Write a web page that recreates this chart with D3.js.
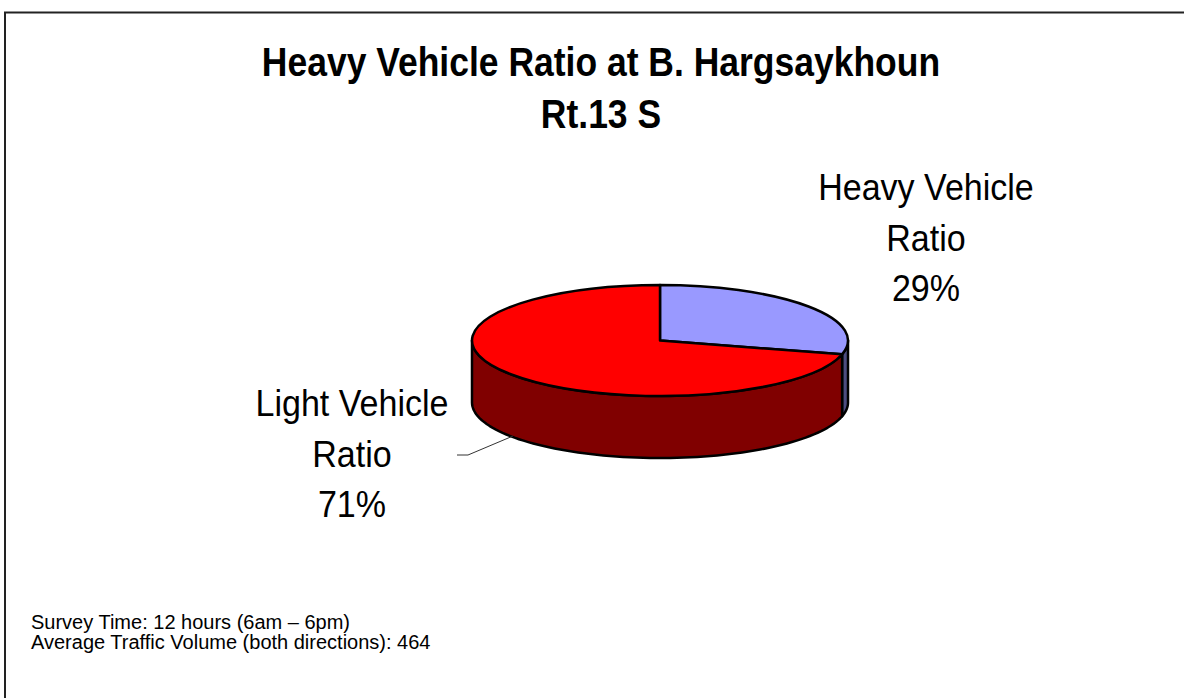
<!DOCTYPE html>
<html>
<head>
<meta charset="utf-8">
<script src="https://cdn.jsdelivr.net/npm/d3@7"></script>
<style>
    body { margin: 0; background: #fff; }
    svg text { font-family: "Liberation Sans", Arial, sans-serif; fill: #000; }
</style>
</head>
<body>
<div id="chart"></div>
<script>
// chart data
const categories = ['Heavy Vehicle Ratio', 'Light Vehicle Ratio']
const values = [29, 71]
const labelNames = [['Heavy Vehicle', 'Ratio'], ['Light Vehicle', 'Ratio']]
const titleLines = ['Heavy Vehicle Ratio at B. Hargsaykhoun', 'Rt.13 S']
const notes = ['Survey Time: 12 hours (6am \u2013 6pm)', 'Average Traffic Volume (both directions): 464']
const topColors = ['#9999ff', '#ff0000']
const sideColors = ['#4d4d80', '#800000']

const width = 1184
const height = 698
// ellipse of the 3d pie
const cx = 660, cy = 340.5, rx = 188, ry = 55.5, depth = 62

const svg = d3.select('#chart')
    .append('svg')
    .attr('width', width)
    .attr('height', height)

// frame (only top and left edges show in the picture)
svg.append('rect')
    .attr('x', 5)
    .attr('y', 12.5)
    .attr('width', width + 20)
    .attr('height', height + 20)
    .attr('fill', 'none')
    .attr('stroke', '#222')
    .attr('stroke-width', 2)

const color = d3.scaleOrdinal().domain(categories).range(topColors)
const sideColor = d3.scaleOrdinal().domain(categories).range(sideColors)

const pie = d3.pie()
    .value(d => d.value)
    .sort(null)

const arcs = pie(categories.map((c, i) => ({ label: c, value: values[i] })))

const pt = (a, dy = 0) => [cx + rx * Math.sin(a), cy - ry * Math.cos(a) + dy]

// outer wall of a slice, only the front half is visible
function sidePath(a0, a1) {
    const s = Math.max(a0, Math.PI / 2)
    const e = Math.min(a1, 3 * Math.PI / 2)
    if (e <= s) return null
    const n = 80
    const top = d3.range(n + 1).map(i => pt(s + (e - s) * i / n))
    const bottom = top.slice().reverse().map(p => [p[0], p[1] + depth])
    return d3.line()(top.concat(bottom)) + 'Z'
}

svg.append('g')
    .selectAll('path')
    .data(arcs.filter(d => sidePath(d.startAngle, d.endAngle)))
    .enter()
    .append('path')
    .attr('d', d => sidePath(d.startAngle, d.endAngle))
    .attr('fill', d => sideColor(d.data.label))
    .attr('stroke', '#000')
    .attr('stroke-width', 2.5)
    .attr('stroke-linejoin', 'round')

const arc = d3.arc()
    .innerRadius(0)
    .outerRadius(rx)

svg.append('g')
    .attr('transform', `translate(${cx},${cy}) scale(1,${ry / rx})`)
    .selectAll('path')
    .data(arcs)
    .enter()
    .append('path')
    .attr('d', arc)
    .attr('fill', d => color(d.data.label))
    .attr('stroke', '#000')
    .attr('stroke-width', 2.5)
    .attr('stroke-linejoin', 'round')
    .attr('vector-effect', 'non-scaling-stroke')

// squeeze text a little, the source font is narrower than Arial
function squeeze(sel, k) {
    sel.each(function () {
        const w = this.getComputedTextLength()
        d3.select(this)
            .attr('textLength', w * k)
            .attr('lengthAdjust', 'spacingAndGlyphs')
    })
}

// title
svg.append('g')
    .selectAll('text')
    .data(titleLines)
    .enter()
    .append('text')
    .attr('x', 601)
    .attr('y', (d, i) => 76 + i * 52)
    .attr('text-anchor', 'middle')
    .attr('font-size', 40)
    .attr('font-weight', 'bold')
    .text(d => d)
    .call(squeeze, 0.887)

// data labels
const labelPos = [{ x: 926, y: 200 }, { x: 352, y: 416 }]
const labels = svg.append('g')
    .selectAll('g')
    .data(arcs)
    .enter()
    .append('g')

labels.selectAll('text')
    .data((d, i) => labelNames[i].concat([`${d.data.value}%`]).map(t => ({ t, i })))
    .enter()
    .append('text')
    .attr('x', d => labelPos[d.i].x)
    .attr('y', (d, j) => labelPos[d.i].y + j * 50.5)
    .attr('text-anchor', 'middle')
    .attr('font-size', 36)
    .text(d => d.t)
    .call(squeeze, 0.945)

// leader line for the light slice label
svg.append('path')
    .attr('d', d3.line()([[457, 455], [468, 455], [513, 436]]))
    .attr('fill', 'none')
    .attr('stroke', '#333')
    .attr('stroke-width', 1)

// footnote
svg.append('g')
    .selectAll('text')
    .data(notes)
    .enter()
    .append('text')
    .attr('x', 31)
    .attr('y', (d, i) => 629 + i * 20)
    .attr('font-size', 20)
    .text(d => d)
</script>
</body>
</html>
